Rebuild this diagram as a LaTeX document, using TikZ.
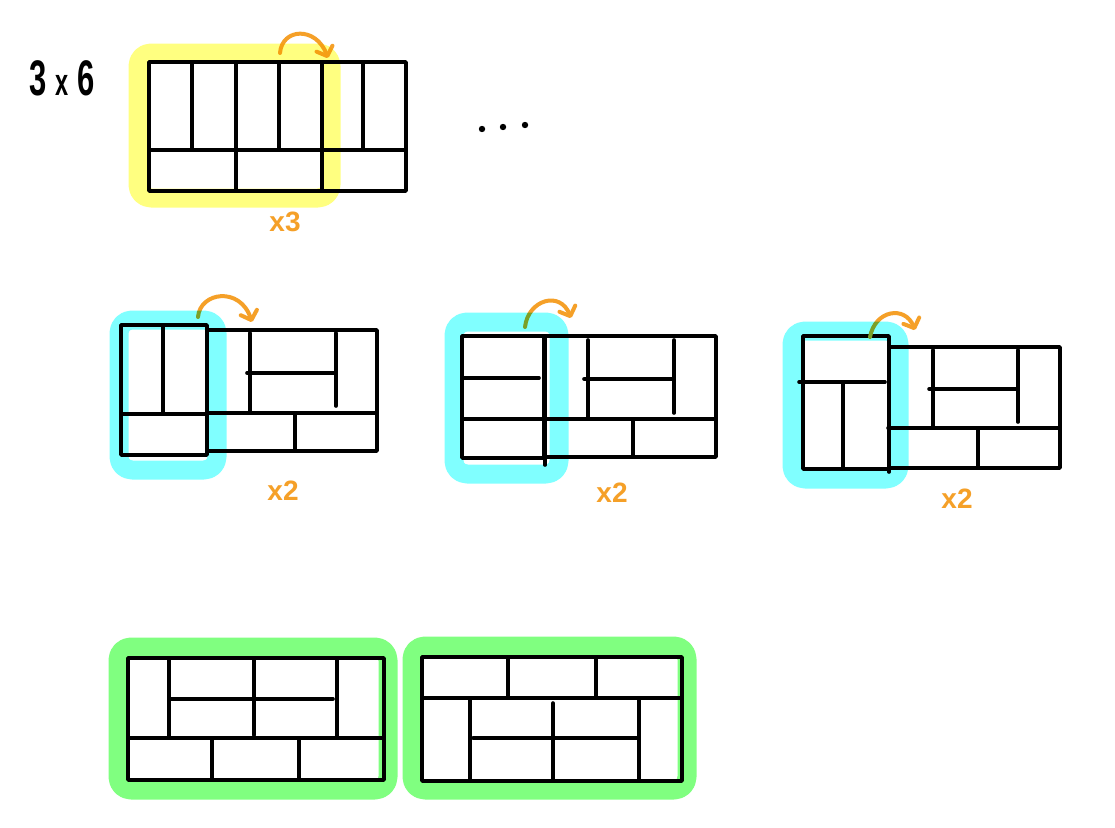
\documentclass[tikz,border=0pt]{standalone}
\usepackage{fontspec}
\setmainfont{Liberation Sans}
\usetikzlibrary{arrows.meta}
\definecolor{hlyellow}{RGB}{255,255,128}
\definecolor{hlcyan}{RGB}{128,255,255}
\definecolor{hlgreen}{RGB}{128,255,128}
\definecolor{pen}{RGB}{245,160,40}
\begin{document}
\begin{tikzpicture}[x=1pt,y=-1pt,
  tile/.style={line width=3.6pt,line cap=round,line join=round},
  hl/.style={line width=19pt,rounded corners=13pt,line join=round},
  flip/.style={draw=pen,line width=4pt,line cap=round,-{Straight Barb[length=8pt,width=17pt,round]}},
  countlbl/.style={text=pen,font=\bfseries\fontsize{28}{28}\selectfont,inner sep=0pt}]
\useasboundingbox (0,0) rectangle (1115,827);
\fill[white] (0,0) rectangle (1115,827);

% title and dots
\node[font=\bfseries\fontsize{50}{50}\selectfont,xscale=0.62,transform shape,inner sep=0pt] (title) at (62,78) {3 {\fontsize{38}{38}\selectfont x} 6};
\fill (482,129) circle (3.2) (503,127) circle (3.2) (525,125) circle (3.2);

% ---- top 3x6 tiling
\draw[tile] (149,62) rectangle (406,191);
\draw[tile] (149,150) -- (406,150);
\draw[tile] (192,62) -- (192,150) (279,62) -- (279,150) (363,62) -- (363,150);
\draw[tile] (236,62) -- (236,191) (322,62) -- (322,191);

% ---- row 2, diagram 1
\draw[tile] (121,325) rectangle (207,455);
\draw[tile] (163,325) -- (163,414) (121,414) -- (207,414);
\draw[tile] (207,330) -- (377,330) -- (377,451) -- (207,451);
\draw[tile] (207,413) -- (377,413) (295,413) -- (295,451);
\draw[tile] (250,333) -- (250,413) (336,333) -- (336,406) (247,373) -- (336,373);

% ---- row 2, diagram 2
\draw[tile] (462,336) rectangle (544,458);
\draw[tile] (462,378) -- (539,378) (462,419) -- (544,419);
\draw[tile] (544,336) -- (716,336) -- (716,457) -- (544,457);
\draw[tile] (545,336) -- (545,465);
\draw[tile] (544,419) -- (716,419) (633,419) -- (633,457);
\draw[tile] (588,340) -- (588,419) (674,340) -- (674,413) (584,379) -- (674,379);

% ---- row 2, diagram 3
\draw[tile] (803,336) rectangle (889,469);
\draw[tile] (889,469) -- (889,472);
\draw[tile] (799,382) -- (885,382) (843,382) -- (843,469);
\draw[tile] (889,347) -- (1060,347) -- (1060,468) -- (889,468);
\draw[tile] (888,428) -- (1060,428) (978,428) -- (978,468);
\draw[tile] (933,350) -- (933,428) (1018,350) -- (1018,422) (929,389) -- (1018,389);

% ---- row 3, diagram A
\draw[tile] (128,658) rectangle (384,780);
\draw[tile] (128,738) -- (384,738) (212,738) -- (212,780) (299,738) -- (299,780);
\draw[tile] (169,658) -- (169,738) (337,658) -- (337,738) (254,658) -- (254,735);
\draw[tile] (169,699) -- (333,699);

% ---- row 3, diagram B
\draw[tile] (422,657) rectangle (682,781);
\draw[tile] (422,698) -- (682,698) (508,657) -- (508,698) (596,657) -- (596,698);
\draw[tile] (470,698) -- (470,781) (639,698) -- (639,781) (553,703) -- (553,781);
\draw[tile] (473,738) -- (638,738);

% ---- orange arrows and counts
\coordinate (a1s) at (280,53);  \coordinate (a1e) at (328,58);
\coordinate (a2s) at (198,317); \coordinate (a2e) at (252,322);
\coordinate (a3s) at (525,327); \coordinate (a3e) at (571,318);
\coordinate (a4s) at (870,337); \coordinate (a4e) at (915,330);
\draw[flip] (a1s) .. controls (282,28) and (316,26) .. (a1e);
\draw[flip] (a2s) .. controls (200,292) and (240,286) .. (a2e);
\draw[flip] (a3s) .. controls (528,300) and (560,290) .. (a3e);
\draw[flip] (a4s) .. controls (875,310) and (905,305) .. (a4e);
\node[countlbl] (c1) at (285,222) {x3};
\node[countlbl] (c2) at (283,491) {x2};
\node[countlbl] (c3) at (612,493) {x2};
\node[countlbl] (c4) at (957,499) {x2};

% ---- highlighter strokes
\begin{scope}[blend mode=multiply]
\draw[hl,hlyellow] (138,53) rectangle (331,198);
\draw[hl,hlcyan] (119,320) rectangle (217,470);
\draw[hl,hlcyan] (454,322) rectangle (559,474);
\draw[hl,hlcyan] (792,331) rectangle (899,479);
\draw[hl,hlgreen] (118,647) rectangle (388,790);
\draw[hl,hlgreen] (412,646) rectangle (687,790);
\end{scope}
\end{tikzpicture}
\end{document}
